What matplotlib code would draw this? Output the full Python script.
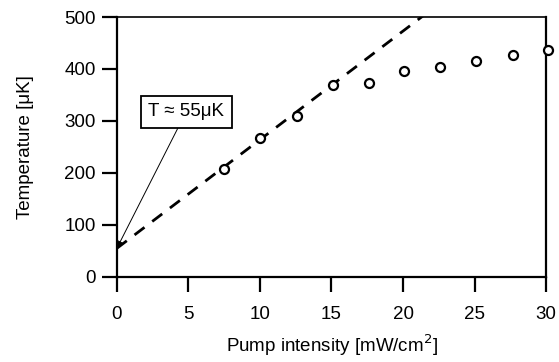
import matplotlib
matplotlib.use("Agg")
import matplotlib.pyplot as plt
import numpy as np

plt.rcParams['font.family'] = ['Liberation Sans', 'DejaVu Sans']

# measured points
intensity = [7.5, 10.0, 12.6, 15.1, 17.6, 20.1, 22.6, 25.1, 27.7, 30.1]
temperature = [208, 268, 310, 369, 374, 397, 404, 415, 427, 437]

# linear fit shown as dashed line
fit_x = [0, 22]
fit_intercept = 55
fit_slope = 20.9

fs = 13.5

fig = plt.figure(figsize=(5.59, 3.62), dpi=100)
ax = fig.add_axes([0.209, 0.235, 0.768, 0.718])

fx = np.array(fit_x)
ax.plot(fx, fit_intercept + fit_slope*fx, color='black', lw=2,
        dashes=(4.5, 3.5), zorder=2)
ax.plot(intensity, temperature, 'o', mfc='white', mec='black', mew=1.6,
        ms=6.5, clip_on=False, zorder=3)

ax.annotate("T \u2248 55\u03bcK", xy=(0, fit_intercept), xytext=(4.85, 318),
            ha='center', va='center', fontsize=fs,
            bbox=dict(boxstyle='square,pad=0.4', fc='white', ec='black', lw=1.3),
            arrowprops=dict(arrowstyle='-|>', color='black', lw=0.7,
                            mutation_scale=11, shrinkA=0, shrinkB=0))

ax.set_xlim(0, 30)
ax.set_ylim(0, 500)
ax.set_xticks([0, 5, 10, 15, 20, 25, 30])
ax.set_yticks([0, 100, 200, 300, 400, 500])
ax.tick_params(axis='x', direction='out', length=11, width=1.6, pad=10,
               labelsize=fs)
ax.tick_params(axis='y', direction='out', length=11, width=1.6, pad=4,
               labelsize=fs)
for s in ax.spines.values():
    s.set_linewidth(1.6)
ax.spines['top'].set_linewidth(1.2)

ax.set_xlabel("Pump intensity [mW/cm$^2$]", fontsize=fs, labelpad=7)
ax.set_ylabel("Temperature [\u03bcK]", fontsize=fs, labelpad=22)

fig.savefig("out.png", dpi=100)
